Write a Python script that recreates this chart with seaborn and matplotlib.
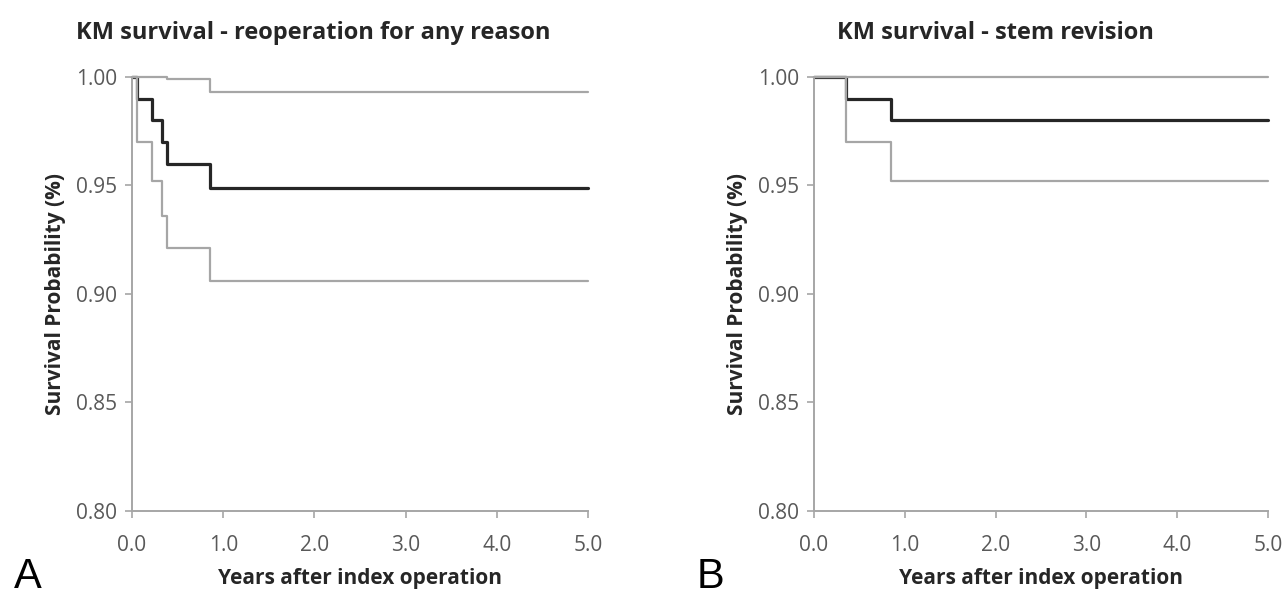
import matplotlib
matplotlib.use("Agg")
import matplotlib.pyplot as plt
import seaborn as sns
import pandas as pd

# Panel A - reoperation for any reason
times_a = [0.0, 0.05, 0.22, 0.33, 0.38, 0.86, 5.0]
surv_a = [1.0, 0.990, 0.980, 0.970, 0.960, 0.949, 0.949]
upper_times_a = [0.0, 0.38, 0.86, 5.0]
upper_a = [1.0, 0.999, 0.993, 0.993]
lower_a = [1.0, 0.970, 0.952, 0.936, 0.921, 0.906, 0.906]

# Panel B - stem revision
times_b = [0.0, 0.35, 0.85, 5.0]
surv_b = [1.0, 0.990, 0.980, 0.980]
upper_times_b = [0.0, 5.0]
upper_b = [1.0, 1.0]
lower_b = [1.0, 0.970, 0.952, 0.952]

titles = ["KM survival - reoperation for any reason", "KM survival - stem revision"]
panel_letters = ["A", "B"]
x_ticks = [0, 1, 2, 3, 4, 5]
y_ticks = [0.80, 0.85, 0.90, 0.95, 1.00]

sns.set_style("white")
plt.rcParams["font.family"] = ["Open Sans", "DejaVu Sans"]

GRID = "#a6a6a6"
DARK = "#262626"
TICK = "#595959"

fig = plt.figure(figsize=(12.88, 5.95), dpi=100)
ax_a = fig.add_axes([0.1025, 0.1412, 0.354, 0.7294])
ax_b = fig.add_axes([0.632, 0.1412, 0.3525, 0.7294])

panels = [
    (ax_a, times_a, surv_a, upper_times_a, upper_a, lower_a),
    (ax_b, times_b, surv_b, upper_times_b, upper_b, lower_b),
]

for ax, t, s, ut, up, lo in panels:
    sns.lineplot(x=t, y=s, ax=ax, drawstyle="steps-post", color=DARK,
                 linewidth=2.3, clip_on=False, zorder=2)
    sns.lineplot(x=ut, y=up, ax=ax, drawstyle="steps-post", color=GRID,
                 linewidth=1.6, clip_on=False, zorder=3)
    sns.lineplot(x=t, y=lo, ax=ax, drawstyle="steps-post", color=GRID,
                 linewidth=1.6, clip_on=False, zorder=3)

    ax.set_xlim(0, 5)
    ax.set_ylim(0.8, 1.0)
    ax.set_xticks(x_ticks)
    ax.set_xticklabels([f"{v:.1f}" for v in x_ticks])
    ax.set_yticks(y_ticks)
    ax.set_yticklabels([f"{v:.2f}" for v in y_ticks])
    for side in ["top", "right"]:
        ax.spines[side].set_visible(False)
    for side in ["left", "bottom"]:
        ax.spines[side].set_color(GRID)
        ax.spines[side].set_linewidth(1.4)
    ax.tick_params(axis="both", direction="out", length=5, width=1.2,
                   bottom=True, left=True,
                   color=GRID, labelcolor=TICK, labelsize=15, pad=6)
    ax.tick_params(axis="x", pad=12)
    ax.set_xlabel("Years after index operation", fontsize=15,
                  fontweight="bold", color=DARK, labelpad=9)
    ax.set_ylabel("Survival Probability (%)", fontsize=15,
                  fontweight="bold", color=DARK, labelpad=7)

# titles and panel letters
fig.text(313 / 1288, 1 - 33 / 595, titles[0], ha="center", va="center",
         fontsize=17, fontweight="bold", color=DARK)
fig.text(995 / 1288, 1 - 33 / 595, titles[1], ha="center", va="center",
         fontsize=17, fontweight="bold", color=DARK)
fig.text(28 / 1288, 1 - 577 / 595, panel_letters[0], ha="center", va="center",
         fontsize=30, family="Liberation Sans", color="black")
fig.text(711 / 1288, 1 - 577 / 595, panel_letters[1], ha="center", va="center",
         fontsize=30, family="Liberation Sans", color="black")

fig.savefig("out.png", dpi=100)
